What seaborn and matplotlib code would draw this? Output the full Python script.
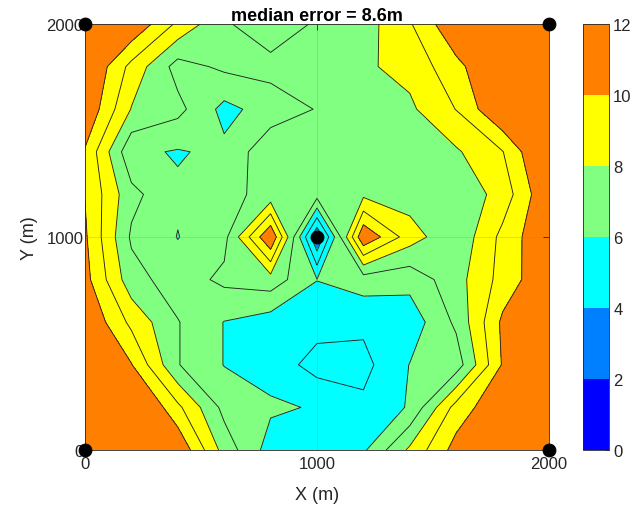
import numpy as np
import matplotlib
matplotlib.use("Agg")
import matplotlib.pyplot as plt
from matplotlib.colors import ListedColormap, BoundaryNorm
from matplotlib.cm import ScalarMappable
import seaborn as sns

# ---- data -------------------------------------------------------------
x_m = [0, 200, 400, 600, 800, 1000, 1200, 1400, 1600, 1800, 2000]
y_m = [0, 200, 400, 600, 800, 1000, 1200, 1400, 1600, 1800, 2000]

# error (m) on each grid row, from x = 0 to x = 2000
err_y0000 = [11.8, 11.5, 10.9, 7.6, 5.55, 5.3, 5.84, 8.2, 10.4, 11.2, 11.6]
err_y0200 = [11.8, 11.7, 9.23, 6.7, 6.15, 5.92, 5.21, 6.1, 9.4, 10.9, 11.5]
err_y0400 = [11.3, 10.05, 7.05, 5.97, 5.6, 4.6, 4.7, 6.03, 6.45, 10.1, 11.3]
err_y0600 = [11.0, 8.75, 7.05, 5.97, 5.5, 5.4, 5.21, 5.4, 7.2, 10.2, 11.2]
err_y0800 = [10.35, 7.4, 6.48, 7.23, 7.56, 6.02, 6.5, 6.34, 7.6, 9.37, 10.9]
err_y1000 = [10.15, 6.85, 5.97, 6.69, 11.0, 3.0, 10.9, 8.46, 7.2, 9.28, 11.0]
err_y1200 = [9.97, 7.3, 6.15, 6.69, 7.33, 7.4, 7.78, 7.53, 7.2, 8.42, 10.95]
err_y1400 = [9.9, 6.21, 5.92, 6.22, 7.72, 7.5, 7.6, 7.7, 7.87, 8.96, 11.5]
err_y1600 = [10.9, 7.95, 7.3, 5.7, 6.45, 7.05, 7.4, 7.82, 9.03, 11.07, 11.5]
err_y1800 = [11.2, 8.7, 6.6, 7.2, 7.35, 7.5, 7.86, 8.3, 9.7, 11.2, 11.6]
err_y2000 = [11.5, 10.9, 8.8, 7.15, 6.3, 7.15, 7.55, 8.9, 10.9, 11.3, 11.5]

anchor_x = [0, 0, 2000, 2000, 1000]
anchor_y = [0, 2000, 0, 2000, 1000]

fill_levels = list(range(0, 13))
line_levels = list(range(1, 11))
colorbar_ticks = [0, 2, 4, 6, 8, 10, 12]
band_colors = ["#0000FF", "#0080FF", "#00FFFF", "#80FF80", "#FFFF00", "#FF8000"]
axis_ticks = [0, 1000, 2000]
title_text = "median error = 8.6m"
x_label = "X (m)"
y_label = "Y (m)"

# ---- style ------------------------------------------------------------
sns.set_theme(style="white")
plt.rcParams["font.family"] = ["Liberation Sans", "DejaVu Sans"]

fig = plt.figure(figsize=(6.36, 5.06), dpi=100)
ax = fig.add_axes([85 / 636, 55 / 506, 464 / 636, 426 / 506])

Z = np.array([err_y0000, err_y0200, err_y0400, err_y0600, err_y0800, err_y1000,
              err_y1200, err_y1400, err_y1600, err_y1800, err_y2000])
X, Y = np.meshgrid(x_m, y_m)

cmap = ListedColormap(band_colors)
norm = BoundaryNorm(colorbar_ticks, cmap.N)

ax.contourf(X, Y, Z, levels=fill_levels, cmap=cmap, norm=norm, zorder=1)
ax.contour(X, Y, Z, levels=line_levels, colors="#222222", linewidths=0.65, zorder=2)

sns.scatterplot(x=anchor_x, y=anchor_y, color="black", s=85, edgecolor="black",
                ax=ax, clip_on=False, zorder=6, legend=False)

ax.set_xlim(0, 2000)
ax.set_ylim(0, 2000)
ax.set_xticks(axis_ticks)
ax.set_yticks(axis_ticks)
ax.set_axisbelow(False)
ax.grid(True, color="#888888", alpha=0.3, linewidth=0.6)
ax.tick_params(direction="in", length=4, width=0.6, colors="#262626",
               labelsize=12, top=True, right=True)
ax.tick_params(axis="y", pad=1)
ax.tick_params(axis="x", pad=4)
for sp in ax.spines.values():
    sp.set_color("#262626")
    sp.set_linewidth(0.6)
    sp.set_zorder(5)

ax.set_title(title_text, fontweight="bold", fontsize=13, pad=3, color="black")
ax.set_xlabel(x_label, fontsize=13, color="#262626", labelpad=11)
ax.set_ylabel(y_label, fontsize=13, color="#262626", labelpad=6)

cax = fig.add_axes([583 / 636, 55 / 506, 26 / 636, 426 / 506])
cb = fig.colorbar(ScalarMappable(norm=norm, cmap=cmap), cax=cax, ticks=colorbar_ticks)
cb.outline.set_edgecolor("#262626")
cb.outline.set_linewidth(0.6)
cax.tick_params(direction="in", length=3, width=0.6, colors="#262626", labelsize=12, pad=3)

fig.savefig("out.png", dpi=100)
